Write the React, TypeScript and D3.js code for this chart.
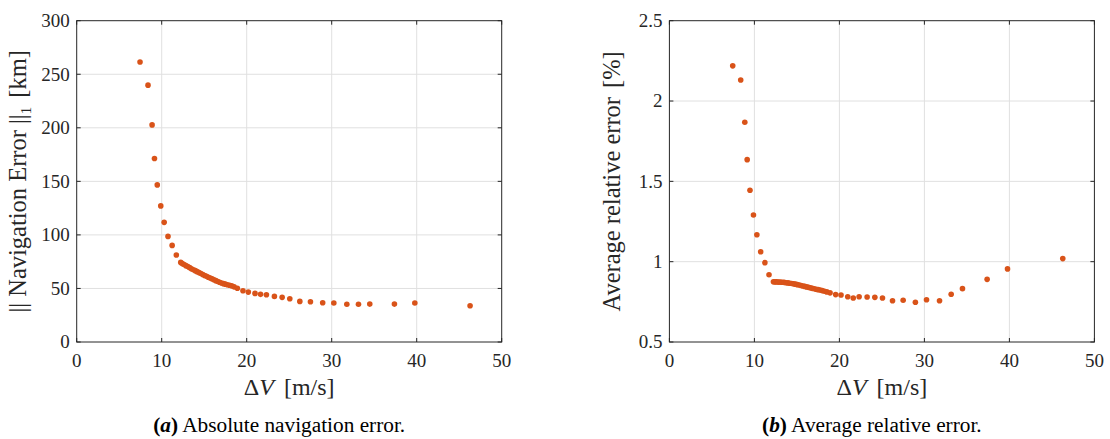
import * as d3 from "d3";

// ΔV of each run [m/s] (shared by both panels)
const deltaV = [
  7.45, 8.39, 8.87, 9.15, 9.48, 9.89, 10.29, 10.74, 11.23, 11.72,
  12.24, 12.42, 12.63, 12.85, 13.06, 13.29, 13.5, 13.73, 13.95, 14.17,
  14.39, 14.61, 14.83, 15.05, 15.27, 15.49, 15.71, 15.93, 16.15, 16.37,
  16.59, 16.81, 17.03, 17.26, 17.49, 17.73, 17.98, 18.24, 18.52, 18.9,
  19.56, 20.19, 20.98, 21.63, 22.32, 23.26, 24.17, 25.07, 26.25, 27.5,
  28.94, 30.25, 31.78, 33.15, 34.48, 37.38, 39.78, 46.28,
];

// || navigation error ||_1 [km]
const navError = [
  261.5, 239.8, 202.7, 171.4, 146.7, 127.1, 111.7, 98.6, 90.2, 81.2,
  74.3, 73.2, 72.3, 71.3, 70.4, 69.4, 68.4, 67.5, 66.6, 65.7,
  64.8, 63.9, 63.0, 62.1, 61.3, 60.5, 59.7, 58.9, 58.1, 57.3,
  56.5, 55.8, 55.1, 54.5, 54.0, 53.5, 53.0, 52.4, 51.5, 50.2,
  47.9, 46.6, 45.4, 44.5, 44.1, 42.6, 41.7, 40.4, 37.9, 37.6,
  36.7, 36.4, 35.2, 35.2, 35.4, 35.4, 36.4, 33.9,
];

// average relative error [%]
const relError = [
  2.219, 2.131, 1.868, 1.635, 1.445, 1.291, 1.168, 1.062, 0.994, 0.919,
  0.875, 0.874, 0.874, 0.873, 0.873, 0.872, 0.871, 0.869, 0.868, 0.866,
  0.864, 0.862, 0.86, 0.857, 0.855, 0.852, 0.849, 0.846, 0.843, 0.84,
  0.837, 0.834, 0.831, 0.828, 0.826, 0.823, 0.82, 0.816, 0.812, 0.806,
  0.795, 0.793, 0.782, 0.774, 0.782, 0.78, 0.778, 0.774, 0.757, 0.76,
  0.747, 0.763, 0.757, 0.797, 0.832, 0.89, 0.955, 1.019,
];

const xTicks = [0, 10, 20, 30, 40, 50];
const navTicks = [0, 50, 100, 150, 200, 250, 300];
const relTicks = [0.5, 1, 1.5, 2, 2.5];

const W = 1110;
const H = 439;
const TOP = 20.7;
const BOTTOM = 342;
const FONT = "'Liberation Serif', 'Times New Roman', serif";
const AX = "#262626";
const GRID = "#e0e0e0";
const DOT = "#D95319";

type PanelProps = {
  left: number;
  yDomain: [number, number];
  yTicks: number[];
  values: number[];
  yLabel: React.ReactNode;
  labelX: number;
  caption: React.ReactNode;
};

function Panel({ left, yDomain, yTicks, values, yLabel, labelX, caption }: PanelProps) {
  const right = left + 425;
  const x = d3.scaleLinear().domain([0, 50]).range([left, right]);
  const y = d3.scaleLinear().domain(yDomain).range([BOTTOM, TOP]);
  const tk = 4;
  const cx = (left + right) / 2;

  return (
    <g>
      {/* grid */}
      {xTicks.slice(1, -1).map((t) => (
        <line key={"gx" + t} x1={x(t)} x2={x(t)} y1={TOP} y2={BOTTOM} stroke={GRID} strokeWidth={1} />
      ))}
      {yTicks.slice(1, -1).map((t) => (
        <line key={"gy" + t} x1={left} x2={right} y1={y(t)} y2={y(t)} stroke={GRID} strokeWidth={1} />
      ))}

      {/* points */}
      {deltaV.map((d, i) => (
        <circle key={i} cx={x(d)} cy={y(values[i])} r={2.8} fill={DOT} />
      ))}

      {/* box */}
      <rect x={left} y={TOP} width={right - left} height={BOTTOM - TOP} fill="none" stroke={AX} strokeWidth={1} />

      {/* ticks */}
      {xTicks.map((t) => (
        <g key={"tx" + t}>
          <line x1={x(t)} x2={x(t)} y1={BOTTOM} y2={BOTTOM - tk} stroke={AX} />
          <line x1={x(t)} x2={x(t)} y1={TOP} y2={TOP + tk} stroke={AX} />
          <text x={x(t)} y={366.5} textAnchor="middle" fontSize={19} fill={AX} fontFamily={FONT}>
            {t}
          </text>
        </g>
      ))}
      {yTicks.map((t) => (
        <g key={"ty" + t}>
          <line x1={left} x2={left + tk} y1={y(t)} y2={y(t)} stroke={AX} />
          <line x1={right} x2={right - tk} y1={y(t)} y2={y(t)} stroke={AX} />
          <text x={left - 7} y={y(t)} dy="0.33em" textAnchor="end" fontSize={19} fill={AX} fontFamily={FONT}>
            {String(t)}
          </text>
        </g>
      ))}

      {/* x label */}
      <text x={cx} y={395} textAnchor="middle" fontSize={24} fill={AX} fontFamily={FONT}>
        <tspan>Δ</tspan>
        <tspan fontStyle="italic">V</tspan>
        <tspan dx={10}>[m/s]</tspan>
      </text>

      {/* y label */}
      <text
        transform={`translate(${labelX},${(TOP + BOTTOM) / 2}) rotate(-90)`}
        textAnchor="middle"
        fontSize={24.5}
        fill={AX}
        fontFamily={FONT}
      >
        {yLabel}
      </text>

      {/* caption */}
      <text x={cx - 10} y={432} textAnchor="middle" fontSize={21.3} fill="#000" fontFamily={FONT}>
        {caption}
      </text>
    </g>
  );
}

export default function App() {
  return (
    <div style={{ position: "absolute", left: 0, top: 0, background: "#fff" }}>
      <svg width={W} height={H} viewBox={`0 0 ${W} ${H}`} style={{ display: "block" }}>
        <rect width={W} height={H} fill="#fff" />
        <Panel
          left={76.7}
          yDomain={[0, 300]}
          yTicks={navTicks}
          values={navError}
          labelX={26}
          yLabel={
            <>
              <tspan>||</tspan>
              <tspan dx={6}>Navigation Error</tspan>
              <tspan dx={6}>||</tspan>
              <tspan fontSize={15} dy={5}>1</tspan>
              <tspan dy={-5} dx={9}>[km]</tspan>
            </>
          }
          caption={
            <>
              <tspan fontWeight="bold">(</tspan>
              <tspan fontWeight="bold" fontStyle="italic">a</tspan>
              <tspan fontWeight="bold">)</tspan>
              <tspan> Absolute navigation error.</tspan>
            </>
          }
        />
        <Panel
          left={669.4}
          yDomain={[0.5, 2.5]}
          yTicks={relTicks}
          values={relError}
          labelX={620}
          yLabel={
            <>
              <tspan>Average relative error</tspan>
              <tspan dx={9}>[%]</tspan>
            </>
          }
          caption={
            <>
              <tspan fontWeight="bold">(</tspan>
              <tspan fontWeight="bold" fontStyle="italic">b</tspan>
              <tspan fontWeight="bold">)</tspan>
              <tspan> Average relative error.</tspan>
            </>
          }
        />
      </svg>
    </div>
  );
}
